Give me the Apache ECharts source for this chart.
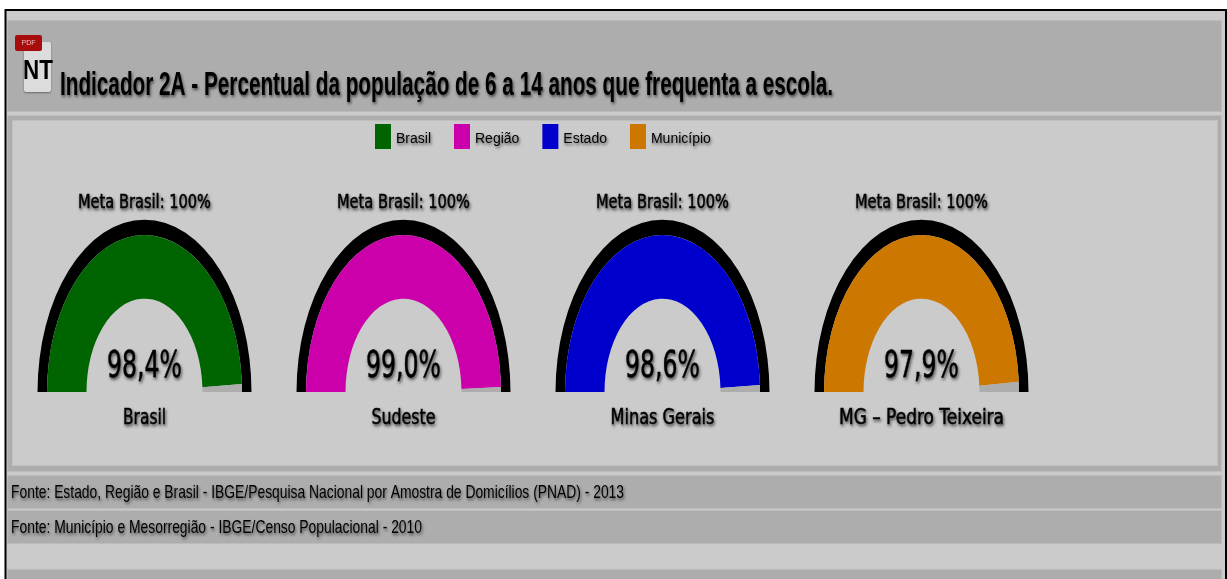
<!DOCTYPE html>
<html>
<head>
<meta charset="utf-8">
<title>Indicador 2A</title>
<style>
  html, body { margin: 0; padding: 0; background: #fff; }
  #chart { width: 1227px; height: 579px; }
</style>
<script src="https://cdn.jsdelivr.net/npm/echarts@6/dist/echarts.min.js"></script>
</head>
<body>
<div id="chart"></div>
<script>
var legendNames = ['Brasil', 'Região', 'Estado', 'Município'];
var places = ['Brasil', 'Sudeste', 'Minas Gerais', 'MG – Pedro Teixeira'];
var values = [98.4, 99.0, 98.6, 97.9];
var colors = ['#006400', '#cc00aa', '#0000cc', '#cc7700'];
var metaValue = 100;
var titleText = 'Indicador 2A - Percentual da população de 6 a 14 anos que frequenta a escola.';
var sourceLines = [
  'Fonte: Estado, Região e Brasil - IBGE/Pesquisa Nacional por Amostra de Domicílios (PNAD) - 2013',
  'Fonte: Município e Mesorregião - IBGE/Censo Populacional - 2010'
];

var centersX = [144.5, 403.5, 662.5, 921.5];
var baseY = 392;
var stretchY = 1.61; // the reference gauges are taller than wide
var shadow = { textShadowColor: 'rgba(0,0,0,0.6)', textShadowBlur: 3, textShadowOffsetX: 1, textShadowOffsetY: 2 };
var heavy = { stroke: '#000', lineWidth: 0.5 };

function fitScale(text, font, width) {
  var ctx = document.createElement('canvas').getContext('2d');
  ctx.font = font;
  return width / ctx.measureText(text).width;
}

function band(x, y, w, h, fill, stroke, lw) {
  return { type: 'rect', z: -10, silent: true, shape: { x: x, y: y, width: w, height: h },
    style: { fill: fill, stroke: stroke || null, lineWidth: stroke ? (lw || 1) : 0 } };
}

function flatText(text, x, y, width, font) {
  return { type: 'text', z: -5, silent: true, x: x, y: y, scaleX: fitScale(text, font, width),
    style: Object.assign({ text: text, font: font, fill: '#000', align: 'left', verticalAlign: 'middle' }, shadow) };
}

function renderGauge(params, api) {
  var cs = params.coordSys;
  var value = api.value(1);
  function angleOf(v) {
    var p = api.coord([1, v]);
    var a = Math.atan2(p[1] - cs.cy, p[0] - cs.cx);
    return a < 1 ? a + Math.PI * 2 : a;
  }
  function slice(r0, r, from, to, fill) {
    return { type: 'sector', x: cs.cx, y: cs.cy, originX: 0, originY: 0, scaleY: stretchY,
      shape: { cx: 0, cy: 0, r0: r0, r: r, startAngle: angleOf(from), endAngle: angleOf(to), clockwise: true },
      style: { fill: fill } };
  }
  function label(text, y, font, width) {
    return { type: 'text', x: cs.cx, y: y, scaleX: fitScale(text, font, width),
      style: Object.assign({ text: text, font: font, fill: '#000', align: 'center', verticalAlign: 'middle' }, heavy, shadow) };
  }
  var i = params.seriesIndex;
  return { type: 'group', children: [
    slice(cs.r * 0.911, cs.r, 0, metaValue, '#000'),
    slice(cs.r * 0.542, cs.r * 0.911, 0, value, colors[i]),
    slice(cs.r * 0.542, cs.r * 0.911, value, metaValue, '#adadad'),
    label('Meta Brasil: ' + metaValue + '%', 203, '20px "DejaVu Sans"', 133),
    label(value.toFixed(1).replace('.', ',') + '%', 367, '37px "DejaVu Sans"', 75),
    label(places[i], 419, '21px "DejaVu Sans"', [43, 64, 104, 165][i])
  ] };
}

var chart = echarts.init(document.getElementById('chart'), null, { renderer: 'canvas' });

var polar = [], angleAxis = [], radiusAxis = [], series = [];
for (var i = 0; i < values.length; i++) {
  polar.push({ center: [centersX[i], baseY], radius: 107 });
  angleAxis.push({ polarIndex: i, type: 'value', min: 0, max: 200, startAngle: 180, show: false });
  radiusAxis.push({ polarIndex: i, type: 'value', min: 0, max: 1, show: false });
  series.push({
    name: legendNames[i],
    type: 'custom',
    coordinateSystem: 'polar',
    polarIndex: i,
    itemStyle: { color: colors[i] },
    renderItem: renderGauge,
    data: [[1, values[i]]]
  });
}

var option = {
  animation: false,
  backgroundColor: '#fff',
  polar: polar,
  angleAxis: angleAxis,
  radiusAxis: radiusAxis,
  legend: {
    data: legendNames,
    top: 119,
    left: 370,
    icon: 'rect',
    itemWidth: 16,
    itemHeight: 25,
    itemGap: 23,
    selectedMode: false,
    formatter: '{n|{name}}',
    textStyle: {
      rich: {
        n: Object.assign({ color: '#000', fontFamily: '"Liberation Sans"', fontSize: 14, padding: [5, 0, 0, 0] }, shadow)
      }
    }
  },
  graphic: [
    band(5.5, 10, 1220.5, 572, '#cbcbcb', '#000', 2),
    band(7.5, 20.5, 1214, 91, '#adadad', '#bbb'),
    band(7.5, 115.5, 1214, 356, '#adadad', null),
    band(12.5, 120.5, 1205, 345, '#cbcbcb', '#c0c0c0'),
    band(7.5, 475.5, 1214, 33, '#adadad', '#bbb'),
    band(7.5, 510.5, 1214, 33, '#adadad', '#bbb'),
    band(7.5, 569.5, 1214, 12, '#adadad', '#bbb'),
    // NT document icon
    { type: 'rect', z: -8, silent: true, shape: { x: 24, y: 42, width: 27, height: 50, r: 2 }, style: { fill: '#dcdcdc', shadowColor: 'rgba(0,0,0,0.4)', shadowBlur: 2, shadowOffsetY: 1 } },
    { type: 'rect', z: -7, silent: true, shape: { x: 15, y: 35, width: 27, height: 16, r: 2 }, style: { fill: '#a80d0d' } },
    { type: 'text', z: -6, silent: true, x: 28.5, y: 43, style: { text: 'PDF', font: '7px "Liberation Sans"', fill: '#e8c0c0', align: 'center', verticalAlign: 'middle' } },
    { type: 'text', z: -6, silent: true, x: 38, y: 71, scaleX: 0.8, style: { text: 'NT', font: 'bold 28px "Liberation Sans"', fill: '#000', align: 'center', verticalAlign: 'middle' } },
    flatText(titleText, 60, 86, 773, 'bold 33px "Liberation Sans"'),
    flatText(sourceLines[0], 11, 493, 613, '19px "Liberation Sans"'),
    flatText(sourceLines[1], 11, 528, 411, '19px "Liberation Sans"')
  ],
  series: series
};

chart.setOption(option);
</script>
</body>
</html>
